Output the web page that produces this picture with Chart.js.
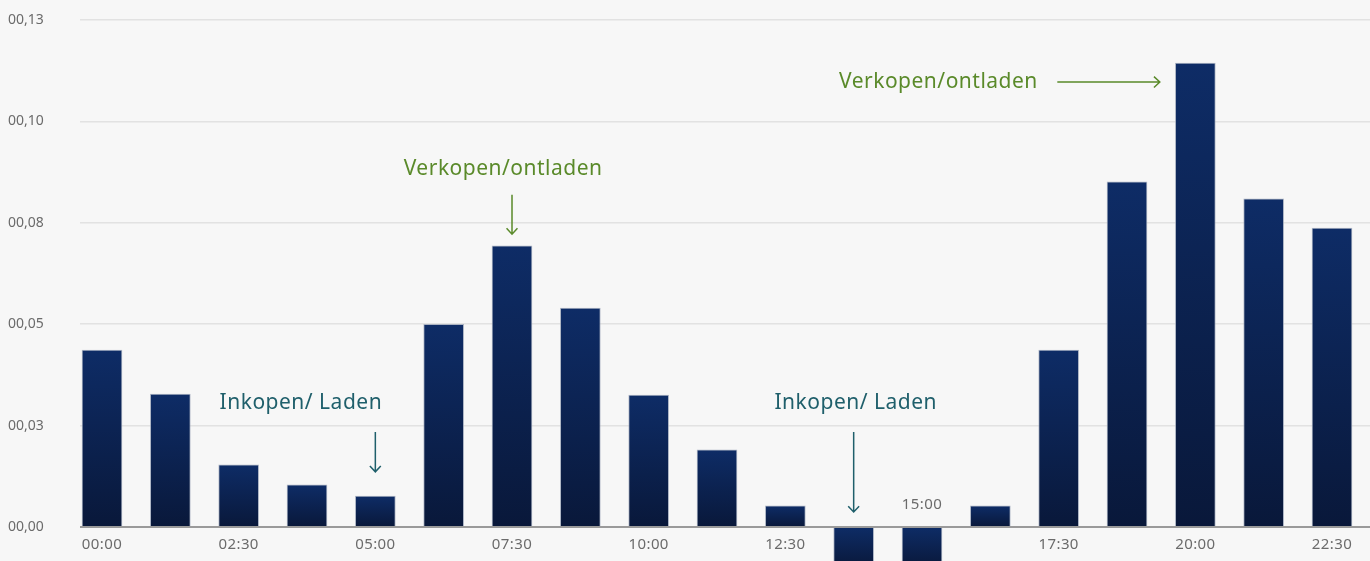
<!DOCTYPE html>
<html>
<head>
<meta charset="utf-8">
<script src="https://cdn.jsdelivr.net/npm/chart.js@4.4.1/dist/chart.umd.min.js"></script>
<style>
    html, body { margin: 0; padding: 0; background: #f7f7f7; }
    #wrap { width: 1370px; height: 561px; position: relative; }
</style>
</head>
<body>
<div id="wrap"><canvas id="prijsChart"></canvas></div>
<script>
// =========================================
// DATA
// =========================================
const tijden = ['00:00', '01:15', '02:30', '03:45', '05:00', '06:15', '07:30', '08:45', '10:00', '11:15',
                '12:30', '13:45', '15:00', '16:15', '17:30', '18:45', '20:00', '21:15', '22:30'];
const prijzen = [0.0436, 0.0328, 0.0153, 0.0104, 0.0076, 0.0500, 0.0693, 0.0540, 0.0325, 0.0190,
                 0.0052, -0.0100, -0.0100, 0.0052, 0.0436, 0.0851, 0.1144, 0.0809, 0.0737];
const yTickWaarden = [0, 0.025, 0.05, 0.075, 0.1, 0.125];
const yTickLabels = ['00,00', '00,03', '00,05', '00,08', '00,10', '00,13'];

// Notities (in data-coordinaten: index van de balk, prijs-waarde)
const notities = [
    { tekst: 'Inkopen/ Laden', kleur: '#1f5f6b', x: 2.91, y: 0.0306, pijl: [4, 0.0234, 4, 0.0136] },
    { tekst: 'Inkopen/ Laden', kleur: '#1f5f6b', x: 11.03, y: 0.0306, pijl: [11, 0.0234, 11, 0.0037] },
    { tekst: 'Verkopen/ontladen', kleur: '#5a8a2a', x: 5.87, y: 0.0883, pijl: [6, 0.0819, 6, 0.0722] },
    { tekst: 'Verkopen/ontladen', kleur: '#5a8a2a', x: 12.24, y: 0.1097, pijl: [13.98, 0.1097, 15.48, 0.1097] }
];

const lettertype = '"Noto Sans", "Open Sans", sans-serif';

// =========================================
// KLEUR BALK (verloop per balk)
// =========================================
function balkKleur(context) {
    const chart = context.chart;
    const y = chart.scales.y;
    if (!y || context.type !== 'data' || !context.parsed) return '#0c2456';
    const v = context.parsed.y;
    const boven = y.getPixelForValue(Math.max(v, 0));
    const onder = y.getPixelForValue(Math.min(v, 0));
    if (!isFinite(boven) || !isFinite(onder) || boven === onder) return '#0c2456';
    const g = chart.ctx.createLinearGradient(0, boven, 0, onder);
    g.addColorStop(0, '#0e2c66');
    g.addColorStop(1, '#09183a');
    return g;
}

// =========================================
// PLUGIN: x-labels en notities
// =========================================
const tekenExtra = {
    id: 'tekenExtra',
    afterDatasetsDraw(chart) {
        const c = chart.ctx;
        const xs = chart.scales.x;
        const ys = chart.scales.y;
        const nul = ys.getPixelForValue(0);

        c.save();
        // tijd-labels onder (of boven bij negatieve balk)
        c.font = '15px ' + lettertype;
        c.letterSpacing = '0.4px';
        c.fillStyle = '#6b6b6b';
        c.textAlign = 'center';
        c.textBaseline = 'middle';
        tijden.forEach((t, i) => {
            if (i % 2 !== 0) return;
            const px = xs.getPixelForValue(i);
            const py = prijzen[i] < 0 ? nul - 22 : nul + 18;
            c.fillText(t, px, py);
        });

        // notities met pijlen
        notities.forEach(n => {
            c.font = '21px ' + lettertype;
            c.letterSpacing = '0.5px';
            c.fillStyle = n.kleur;
            c.fillText(n.tekst, xs.getPixelForValue(n.x), ys.getPixelForValue(n.y));

            const x1 = xs.getPixelForValue(n.pijl[0]);
            const y1 = ys.getPixelForValue(n.pijl[1]);
            const x2 = xs.getPixelForValue(n.pijl[2]);
            const y2 = ys.getPixelForValue(n.pijl[3]);
            const hoek = Math.atan2(y2 - y1, x2 - x1);
            c.strokeStyle = n.kleur;
            c.lineWidth = 1.5;
            c.beginPath();
            c.moveTo(x1, y1);
            c.lineTo(x2, y2);
            c.moveTo(x2 - 8 * Math.cos(hoek - 0.75), y2 - 8 * Math.sin(hoek - 0.75));
            c.lineTo(x2, y2);
            c.lineTo(x2 - 8 * Math.cos(hoek + 0.75), y2 - 8 * Math.sin(hoek + 0.75));
            c.stroke();
        });
        c.restore();
    }
};

// =========================================
// GRAFIEK
// =========================================
const ctx = document.getElementById('prijsChart').getContext('2d');

new Chart(ctx, {
    type: 'bar',
    data: {
        datasets: [{
            label: 'Prijs',
            data: prijzen.map((v, i) => ({ x: i, y: v })),
            backgroundColor: balkKleur,
            borderColor: 'rgba(150, 160, 180, 0.75)',
            borderWidth: 1,
            barThickness: 40
        }]
    },
    options: {
        responsive: true,
        maintainAspectRatio: false,
        animation: false,
        layout: { padding: { left: 8, top: 20, right: 0, bottom: 0 } },
        plugins: {
            legend: { display: false },
            tooltip: { enabled: false }
        },
        scales: {
            x: {
                type: 'linear',
                min: -0.322,
                max: 18.556,
                offset: false,
                display: false
            },
            y: {
                min: -0.00838,
                max: 0.125,
                afterBuildTicks: scale => {
                    scale.ticks = yTickWaarden.map(v => ({ value: v }));
                },
                afterFit: scale => {
                    scale.width = 72;
                    scale.paddingTop = 0;
                    scale.paddingBottom = 0;
                },
                border: { display: false },
                grid: {
                    drawTicks: false,
                    color: c => (c.tick && c.tick.value === 0) ? '#9a9a9a' : '#e2e2e2',
                    lineWidth: c => (c.tick && c.tick.value === 0) ? 2 : 1.5
                },
                ticks: {
                    crossAlign: 'far',
                    color: '#6b6b6b',
                    font: { family: lettertype, size: 14 },
                    callback: (v) => yTickLabels[yTickWaarden.indexOf(v)]
                }
            }
        }
    },
    plugins: [tekenExtra]
});
</script>
</body>
</html>
